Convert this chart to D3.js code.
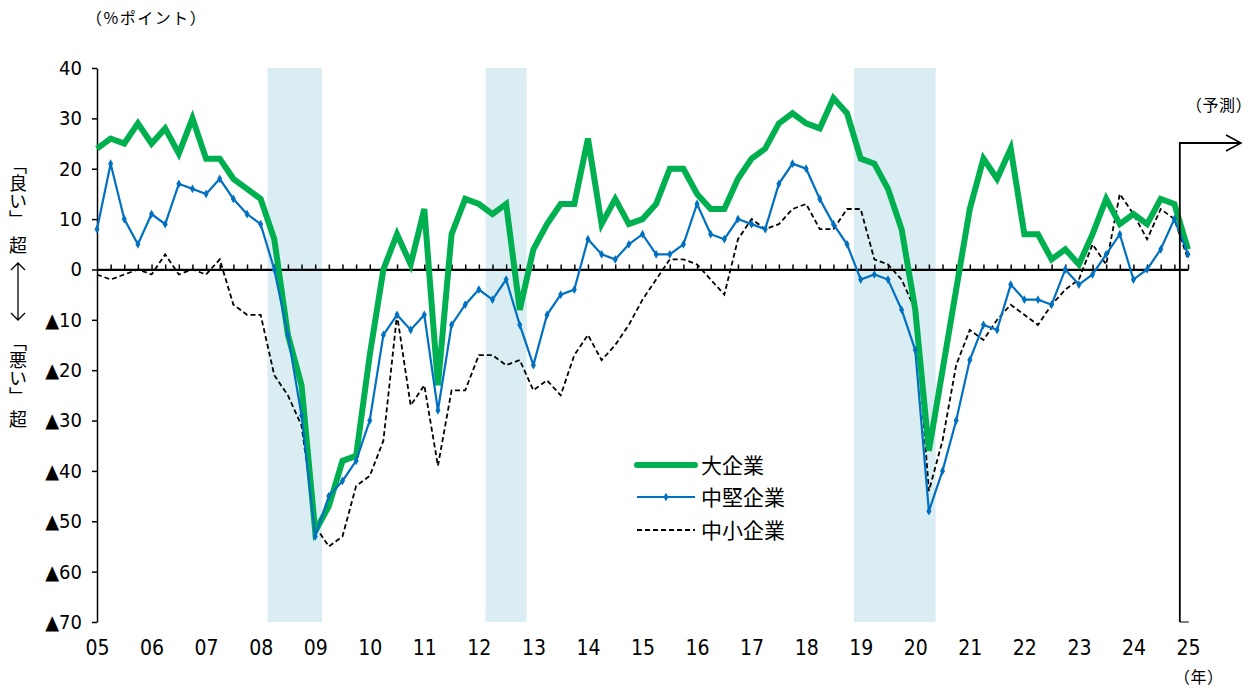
<!DOCTYPE html>
<html lang="ja">
<head>
<meta charset="utf-8">
<title>業況判断DI</title>
<script src="https://cdn.jsdelivr.net/npm/d3@7/dist/d3.min.js"></script>
<style>
  body { margin: 0; background: #fff; }
  .jp { font-family: "Noto Sans CJK JP", sans-serif; }
  .num { font-family: "Liberation Sans Narrow", "DejaVu Sans Condensed", sans-serif; }
</style>
</head>
<body>
<script>
// quarterly values, 05Q1 .. 25Q1 (last one = forecast)
var large = [24,26,25,29, 25,28,23,30, 22,22,18,16, 14,6,-13,-23,
             -52,-47,-38,-37, -17,0,7,1, 12,-23,7,14, 13,11,13,-8,
             4,9,13,13, 26,9,14,9, 10,13,20,20, 15,12,12,18,
             22,24,29,31, 29,28,34,31, 22,21,16,8, -8,-36,-20,-4,
             12,22,18,24, 7,7,2,4, 1,7,14,9, 11,9,14,13, 4];
var mid   = [8,21,10,5, 11,9,17,16, 15,18,14,11, 9,0,-13,-29,
             -53,-45,-42,-38, -30,-13,-9,-12, -9,-28,-11,-7, -4,-6,-2,-11,
             -19,-9,-5,-4, 6,3,2,5, 7,3,3,5, 13,7,6,10,
             9,8,17,21, 20,14,9,5, -2,-1,-2,-8, -16,-48,-40,-30,
             -18,-11,-12,-3, -6,-6,-7,0, -3,-1,3,7, -2,0,4,10, 3];
var small = [-1,-2,-1,0, -1,3,-1,0, -1,2,-7,-9, -9,-21,-25,-31,
             -51,-55,-53,-43, -41,-34,-9,-27, -23,-39,-24,-24, -17,-17,-19,-18,
             -24,-22,-25,-17, -13,-18,-15,-11, -6,-2,2,2, 1,-2,-5,6,
             10,8,9,12, 13,8,8,12, 12,2,1,-2, -8,-44,-34,-19,
             -12,-14,-10,-7, -9,-11,-7,-4, -2,5,1,15, 11,6,12,10, 2];
var yearLabels = ["05","06","07","08","09","10","11","12","13","14",
                  "15","16","17","18","19","20","21","22","23","24","25"];
var bandStart = [12.5, 28.5, 55.5];   // recession periods (quarter index)
var bandEnd   = [16.5, 31.5, 61.5];
var forecastAt = 79.4;
var seriesNames = ["大企業", "中堅企業", "中小企業"];

var w = 1252, h = 689;

var svg = d3.select("body").append("svg")
  .attr("width", w).attr("height", h);

var x = d3.scaleLinear().domain([0, 80]).range([97, 1188]);
var y = d3.scaleLinear().domain([-70, 40]).range([622, 68]);

// shaded bands
svg.selectAll("rect.band")
  .data(bandStart)
  .enter().append("rect")
  .attr("class", "band")
  .attr("x", function(d) { return x(d); })
  .attr("width", function(d, i) { return x(bandEnd[i]) - x(d); })
  .attr("y", y(40))
  .attr("height", y(-70) - y(40))
  .attr("fill", "#daedf3");

// y axis
var yAxis = d3.axisLeft(y)
  .tickValues(d3.range(-70, 41, 10))
  .tickSize(5)
  .tickSizeOuter(0)
  .tickPadding(10)
  .tickFormat(function(d) { return d < 0 ? "▲" + (-d) : d; });

var gy = svg.append("g")
  .attr("transform", "translate(" + x(0) + ",0)")
  .call(yAxis);
gy.selectAll("path, line").attr("stroke", "#000").attr("stroke-width", 1.5);
gy.selectAll("text").attr("class", "num").attr("font-size", "20px").attr("fill", "#000");

// x labels (years)
var xAxis = d3.axisBottom(x)
  .tickValues(d3.range(0, 81, 4))
  .tickSize(0)
  .tickPadding(18)
  .tickFormat(function(d) { return yearLabels[d / 4]; });

var gx = svg.append("g")
  .attr("transform", "translate(0," + y(-70) + ")")
  .call(xAxis);
gx.select(".domain").remove();
gx.selectAll("text").attr("class", "num").attr("font-size", "21px").attr("fill", "#000");

// zero line with quarter ticks
var zAxis = d3.axisTop(x)
  .tickValues(d3.range(1, 81))
  .tickSize(5)
  .tickSizeOuter(0)
  .tickFormat("");
var gz = svg.append("g")
  .attr("transform", "translate(0," + y(0) + ")")
  .call(zAxis);
gz.select(".domain").attr("stroke", "#000").attr("stroke-width", 2.2);
gz.selectAll(".tick line").attr("stroke", "#000").attr("stroke-width", 1.5);

// lines
var line = d3.line()
  .x(function(d, i) { return x(i); })
  .y(function(d) { return y(d); });

svg.append("path")
  .datum(small)
  .attr("d", line)
  .attr("fill", "none")
  .attr("stroke", "#000")
  .attr("stroke-width", 1.8)
  .attr("stroke-dasharray", "5,3");

svg.append("path")
  .datum(large)
  .attr("d", line)
  .attr("fill", "none")
  .attr("stroke", "#00b050")
  .attr("stroke-width", 6);

svg.append("path")
  .datum(mid)
  .attr("d", line)
  .attr("fill", "none")
  .attr("stroke", "#0070c0")
  .attr("stroke-width", 2.2);

var diamond = d3.symbol().type(d3.symbolDiamond).size(22);
svg.selectAll("path.mk")
  .data(mid)
  .enter().append("path")
  .attr("class", "mk")
  .attr("d", diamond)
  .attr("transform", function(d, i) { return "translate(" + x(i) + "," + y(d) + ")"; })
  .attr("fill", "#0070c0");

// forecast marker
var fx = x(forecastAt);
svg.append("path")
  .attr("d", "M" + fx + "," + y(-70) + "V143H1240")
  .attr("fill", "none").attr("stroke", "#000").attr("stroke-width", 1.8);
svg.append("path")
  .attr("d", "M" + fx + "," + y(-70) + "H" + (fx + 9))
  .attr("fill", "none").attr("stroke", "#000").attr("stroke-width", 1);
svg.append("path")
  .attr("d", "M1226,135L1241,143L1226,151")
  .attr("fill", "none").attr("stroke", "#000").attr("stroke-width", 1.5);

svg.append("text").attr("class", "jp")
  .attr("x", 1186).attr("y", 111).attr("font-size", "16px")
  .attr("letter-spacing", "0.5px")
  .text("（予測）");
svg.append("text").attr("class", "jp")
  .attr("x", 1174).attr("y", 683).attr("font-size", "16px")
  .attr("letter-spacing", "0.5px")
  .text("（年）");
svg.append("text").attr("class", "jp")
  .attr("x", 86).attr("y", 24).attr("font-size", "16px")
  .attr("letter-spacing", "1.5px")
  .text("（%ポイント）");

// left side label
svg.append("text").attr("class", "jp")
  .attr("x", 18).attr("y", 156)
  .attr("font-size", "18px")
  .style("writing-mode", "vertical-rl")
  .text("「良い」");
svg.append("text").attr("class", "jp")
  .attr("x", 18).attr("y", 236)
  .attr("font-size", "18px")
  .style("writing-mode", "vertical-rl")
  .text("超");
svg.append("path")
  .attr("d", "M18,263V320M11,270L18,263L25,270M11,313L18,320L25,313")
  .attr("fill", "none").attr("stroke", "#000").attr("stroke-width", 1.3);
svg.append("text").attr("class", "jp")
  .attr("x", 18).attr("y", 333)
  .attr("font-size", "18px")
  .style("writing-mode", "vertical-rl")
  .text("「悪い」");
svg.append("text").attr("class", "jp")
  .attr("x", 18).attr("y", 410)
  .attr("font-size", "18px")
  .style("writing-mode", "vertical-rl")
  .text("超");

// legend
var legendY = [465, 497, 530];
var lg = svg.append("g");
lg.append("line").attr("x1", 637).attr("x2", 695).attr("y1", legendY[0]).attr("y2", legendY[0])
  .attr("stroke", "#00b050").attr("stroke-width", 6).attr("stroke-linecap", "round");
lg.append("line").attr("x1", 637).attr("x2", 695).attr("y1", legendY[1]).attr("y2", legendY[1])
  .attr("stroke", "#0070c0").attr("stroke-width", 2.2);
lg.append("path").attr("d", diamond)
  .attr("transform", "translate(666," + legendY[1] + ")").attr("fill", "#0070c0");
lg.append("line").attr("x1", 637).attr("x2", 695).attr("y1", legendY[2]).attr("y2", legendY[2])
  .attr("stroke", "#000").attr("stroke-width", 1.8).attr("stroke-dasharray", "5,3");
lg.selectAll("text")
  .data(seriesNames)
  .enter().append("text")
  .attr("class", "jp")
  .attr("x", 701)
  .attr("y", function(d, i) { return legendY[i] + 8; })
  .attr("font-size", "21px")
  .text(function(d) { return d; });
</script>
</body>
</html>
